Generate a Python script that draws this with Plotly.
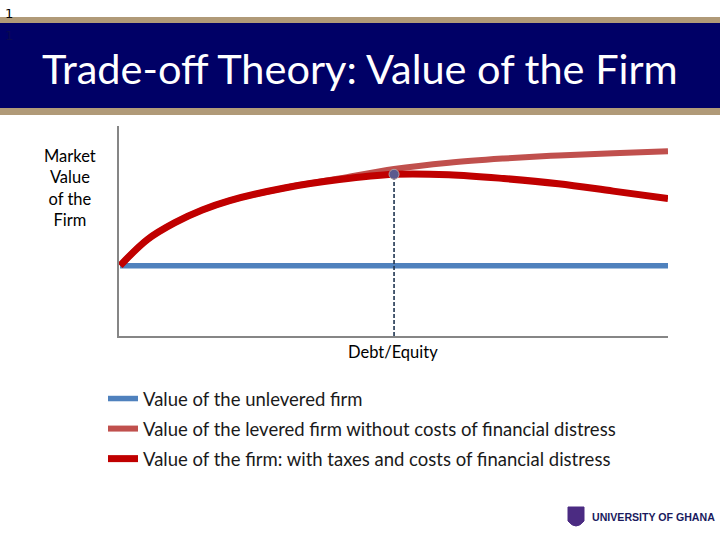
import plotly.graph_objects as go

# ---- data ----
debt_equity = [0, 0.5, 1, 1.5, 2, 3, 4, 5, 6, 7, 8, 9, 10]
unlevered = [33.5] * len(debt_equity)
levered_no_distress = [33.5, 46, 54, 60, 64.5, 70.5, 75, 79.5, 82.5, 84.5, 86, 87, 88]
with_distress = [33.5, 46, 54, 60, 64.5, 70.5, 74.5, 77, 76.8, 75, 72.5, 69, 65.5]

names = ["Value of the unlevered firm",
         "Value of the levered firm without costs of financial distress",
         "Value of the firm: with taxes and costs of financial distress"]
colors = ["#4f81bd", "#c0504d", "#c00000"]

W, H = 720, 540
L, R, T, B = 119, 668, 126, 336  # plot area in pixels


def px(x):
    return (x - L) / (R - L)


def py(y):
    return (B - y) / (B - T)


fig = go.Figure()
fig.add_trace(go.Scatter(x=debt_equity, y=unlevered, mode="lines", name=names[0],
                         line=dict(color=colors[0], width=5.5), legendgroup="a"))
fig.add_trace(go.Scatter(x=debt_equity, y=levered_no_distress, mode="lines", name=names[1],
                         line=dict(color=colors[1], width=6, shape="spline"), legendgroup="b"))
fig.add_trace(go.Scatter(x=debt_equity, y=with_distress, mode="lines", name=names[2],
                         line=dict(color=colors[2], width=7, shape="spline"), legendgroup="c"))

# optimal point
i_max = max(range(len(with_distress)), key=lambda i: with_distress[i])
x_opt, y_opt = debt_equity[i_max], with_distress[i_max]
fig.add_trace(go.Scatter(x=[x_opt, x_opt], y=[0, y_opt], mode="lines", showlegend=False,
                         line=dict(color="#1f3550", width=1.6, dash="4px,2px"), hoverinfo="skip"))
fig.add_trace(go.Scatter(x=[x_opt], y=[y_opt], mode="markers", showlegend=False,
                         marker=dict(size=10, color="#5b5a8e", line=dict(color="#b0a0a0", width=1))))

shapes = [
    # header stripes
    dict(type="rect", xref="paper", yref="paper", x0=px(0), x1=px(W), y0=py(17), y1=py(23),
         fillcolor="#b09a78", line_width=0, layer="below"),
    dict(type="rect", xref="paper", yref="paper", x0=px(0), x1=px(W), y0=py(23), y1=py(108),
         fillcolor="#000066", line_width=0, layer="below"),
    dict(type="rect", xref="paper", yref="paper", x0=px(0), x1=px(W), y0=py(108), y1=py(115),
         fillcolor="#b09a78", line_width=0, layer="below"),
    # crest
    dict(type="path", xref="paper", yref="paper",
         path="M {a},{b} L {c},{b} L {c},{d} Q {m},{e} {a},{d} Z".format(
             a=px(568), c=px(584), b=py(507), d=py(521), m=px(576), e=py(531)),
         fillcolor="#4b2b82", line=dict(color="#4b2b82", width=1)),
]

annotations = [
    dict(text="Trade-off Theory: Value of the Firm", xref="paper", yref="paper",
         x=px(360), y=py(68), showarrow=False, xanchor="center", yanchor="middle",
         font=dict(family="Lato", size=41.5, color="white")),
    dict(text="1", xref="paper", yref="paper", x=px(3), y=py(14), showarrow=False,
         xanchor="left", yanchor="middle", font=dict(family="DejaVu Sans", size=13, color="black")),
    dict(text="1", xref="paper", yref="paper", x=px(3), y=py(35), showarrow=False,
         xanchor="left", yanchor="middle", font=dict(family="DejaVu Sans", size=13, color="#0a0a50")),
    dict(text="Market<br>Value<br>of the<br>Firm", xref="paper", yref="paper",
         x=px(70), y=py(188), showarrow=False, xanchor="center", yanchor="middle", align="center",
         font=dict(family="Lato", size=16.5, color="black")),
    dict(text="Debt/Equity", xref="paper", yref="paper",
         x=px(393), y=py(352), showarrow=False, xanchor="center", yanchor="middle",
         font=dict(family="Lato", size=16.5, color="black")),
    dict(text="<b>UNIVERSITY OF GHANA</b>", xref="paper", yref="paper",
         x=px(590), y=py(517), showarrow=False, xanchor="left", yanchor="middle",
         font=dict(family="Liberation Sans", size=10.6, color="#1a1a5e")),
]

fig.update_layout(
    width=W, height=H,
    margin=dict(l=L, r=W - R, t=T, b=H - B, pad=0),
    paper_bgcolor="white", plot_bgcolor="white",
    showlegend=True,
    legend=dict(x=px(103), y=py(380), xanchor="left", yanchor="top",
                font=dict(family="Lato", size=18.5, color="#1a1a1a"),
                tracegroupgap=3, bgcolor="rgba(0,0,0,0)", itemwidth=30),
    shapes=shapes, annotations=annotations,
    xaxis=dict(range=[-0.02, 10], showgrid=False, zeroline=False, showticklabels=False,
               ticks="", showline=True, linecolor="#868686", linewidth=2),
    yaxis=dict(range=[0, 100], showgrid=False, zeroline=False, showticklabels=False,
               ticks="", showline=True, linecolor="#868686", linewidth=2),
)

fig.write_html("out.html", config={"displayModeBar": False},
               post_script="document.body.style.margin='0';document.body.style.overflow='hidden';")
